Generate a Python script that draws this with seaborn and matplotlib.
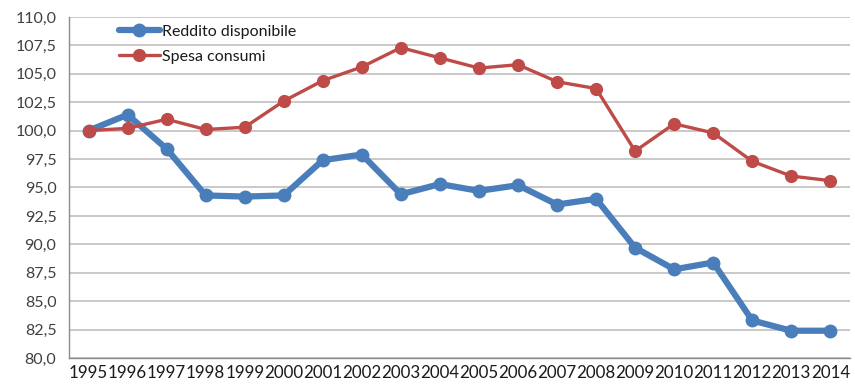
import numpy as np
import pandas as pd
import matplotlib
matplotlib.use("Agg")
import matplotlib.pyplot as plt
from matplotlib.ticker import FuncFormatter, FixedLocator
import seaborn as sns

# Data
years = [str(y) for y in range(1995, 2015)]
reddito = [100.0, 101.4, 98.4, 94.3, 94.2, 94.3, 97.4, 97.9, 94.4, 95.3,
           94.7, 95.2, 93.5, 94.0, 89.7, 87.8, 88.4, 83.3, 82.4, 82.4]
spesa = [100.0, 100.2, 101.0, 100.1, 100.3, 102.6, 104.4, 105.6, 107.3, 106.4,
         105.5, 105.8, 104.3, 103.7, 98.2, 100.6, 99.8, 97.3, 96.0, 95.6]
series_names = ["Reddito disponibile", "Spesa consumi"]
y_ticks = [80.0, 82.5, 85.0, 87.5, 90.0, 92.5, 95.0, 97.5, 100.0,
           102.5, 105.0, 107.5, 110.0]

df = pd.DataFrame({
    "pos": list(range(len(years))) * 2,
    "value": reddito + spesa,
    "serie": [series_names[0]] * len(years) + [series_names[1]] * len(years),
})

sns.set_theme(style="white")
plt.rcParams["font.family"] = ["Lato", "DejaVu Sans"]

fig = plt.figure(figsize=(8.55, 3.85), dpi=100)
ax = fig.add_axes([0.0807, 0.0701, 0.9133, 0.8859])

blue = "#4A7EBB"
red = "#BE4B48"

sns.lineplot(data=df[df.serie == series_names[0]], x="pos", y="value",
             color=blue, lw=4.5, marker="o", markersize=10,
             markeredgewidth=0, label=series_names[0], ax=ax)
sns.lineplot(data=df[df.serie == series_names[1]], x="pos", y="value",
             color=red, lw=2.4, marker="o", markersize=9.5,
             markeredgewidth=0, label=series_names[1], ax=ax)

ax.set_xlim(-0.5, len(years) - 0.5)
ax.set_ylim(80, 110)
ax.set_yticks(y_ticks)
ax.yaxis.set_major_formatter(FuncFormatter(lambda v, p: f"{v:.1f}".replace(".", ",")))
ax.set_xticks(range(len(years)))
ax.set_xticklabels(years)
ax.xaxis.set_minor_locator(FixedLocator(np.arange(-0.5, len(years), 1.0)))
ax.tick_params(axis="x", which="major", length=0, pad=5, labelsize=12.2,
               labelcolor="#1a1a1a")
ax.tick_params(axis="x", which="minor", length=5, width=1, color="#8c8c8c",
               direction="out")
ax.tick_params(axis="y", which="major", length=5, width=1, color="#8c8c8c",
               direction="out", labelsize=11.5, labelcolor="#404040", pad=4)

ax.grid(axis="y", color="#c0c0c0", lw=1.2)
ax.set_axisbelow(True)
for side in ["top", "right"]:
    ax.spines[side].set_visible(False)
for side in ["left", "bottom"]:
    ax.spines[side].set_color("#8c8c8c")
    ax.spines[side].set_linewidth(1)
ax.set_xlabel("")
ax.set_ylabel("")

leg = ax.legend(loc="upper left", bbox_to_anchor=(0.045, 1.02), frameon=False,
                fontsize=11.5, handlelength=2.6, handletextpad=0.1,
                labelspacing=0.7, labelcolor="#1a1a1a")

fig.savefig("out.png", dpi=100)
